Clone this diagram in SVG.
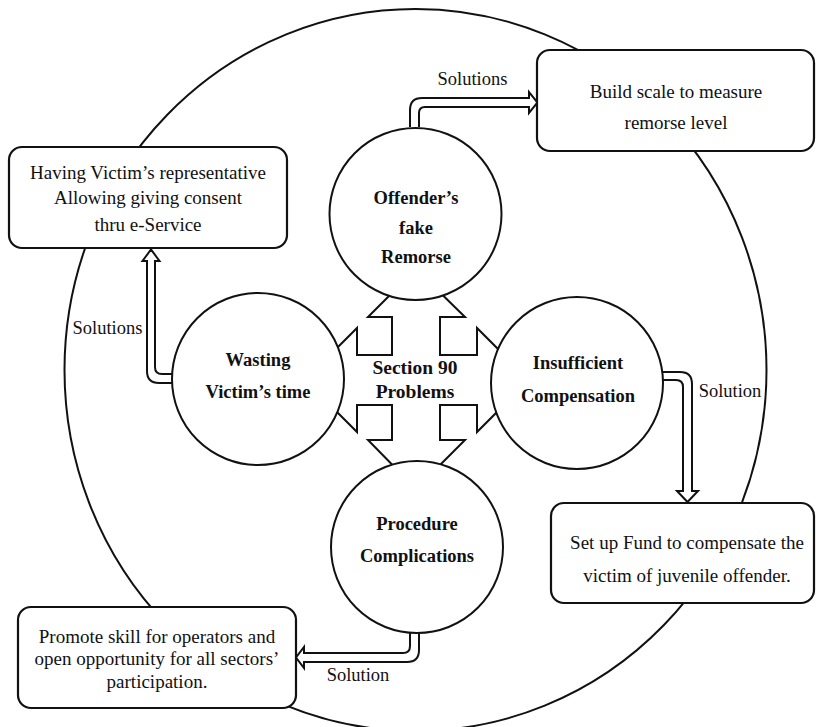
<svg xmlns="http://www.w3.org/2000/svg" width="816" height="727" viewBox="0 0 816 727">
<style>
.ln{fill:none;stroke:#111;stroke-width:2}
.nd{fill:#fff;stroke:#111;stroke-width:2}
.bx{fill:#fff;stroke:#111;stroke-width:2.2}
.ar{fill:#fff;stroke:#111;stroke-width:2;stroke-linejoin:miter}
text{font-family:'Liberation Serif','Times New Roman','DejaVu Serif',serif;fill:#111;text-anchor:middle}
.t{font-size:19px}
.b{font-size:18.5px;font-weight:bold}
.c{font-size:19.5px;font-weight:bold}
.lb{font-size:18.5px}
</style>
<rect width="816" height="727" fill="#fff"/>
<g id="outer-ring">
<ellipse class="ln" cx="415.5" cy="370" rx="351" ry="361"/>
</g>
<g id="center">
<path class="ar" d="M416,269 L465,317 L440,317 L440,355 L477,355 L477,328 L529,380 L477,432 L477,405 L440,405 L440,440 L465,440 L416,489 L368,440 L392,440 L392,405 L357,405 L357,432 L305,380 L357,328 L357,355 L392,355 L392,317 L368,317 Z"/>
<text class="c" x="415" y="374">Section 90</text>
<text class="c" x="415" y="398">Problems</text>
</g>
<g id="connectors">
<path class="ar" d="M410,127 V110 Q410,98 422,98 H529 V92 L537.5,102.5 L529,113 V107 H425 Q419,107 419,113 V127"/>
<text class="lb" x="472.5" y="85">Solutions</text>
<path class="ar" d="M173,374 H162 Q155,374 155,367 V261 H159.5 L151,249.5 L142.5,261 H147 V371 Q147,383 159,383 H173"/>
<text class="lb" x="107.5" y="334">Solutions</text>
<path class="ar" d="M662,372 H680 Q692,372 692,384 V491 H698 L687.5,502 L677,491 H683 V387 Q683,380 676,380 H662"/>
<text class="lb" x="730" y="397">Solution</text>
<path class="ar" d="M410,632 V646 Q410,653 403,653 H304 V647 L296,657.5 L304,668 V662 H407 Q419,662 419,650 V632"/>
<text class="lb" x="358" y="681">Solution</text>
</g>
<g id="offenders-fake-remorse">
<circle class="nd" cx="415.5" cy="214" r="86"/>
<text class="b" x="416" y="204">Offender’s</text>
<text class="b" x="416" y="234">fake</text>
<text class="b" x="416" y="263">Remorse</text>
</g>
<g id="wasting-victims-time">
<circle class="nd" cx="258" cy="379" r="86"/>
<text class="b" x="258" y="366">Wasting</text>
<text class="b" x="258" y="398">Victim’s time</text>
</g>
<g id="insufficient-compensation">
<circle class="nd" cx="577" cy="383" r="86"/>
<text class="b" x="578" y="369">Insufficient</text>
<text class="b" x="578" y="402">Compensation</text>
</g>
<g id="procedure-complications">
<circle class="nd" cx="417" cy="547" r="86"/>
<text class="b" x="417" y="530">Procedure</text>
<text class="b" x="417" y="562">Complications</text>
</g>
<g id="box-remorse-scale">
<rect class="bx" x="537" y="50" width="277" height="101" rx="13"/>
<text class="t" x="676" y="98">Build scale to measure</text>
<text class="t" x="676" y="129">remorse level</text>
</g>
<g id="box-victim-representative">
<rect class="bx" x="9" y="147" width="278" height="101" rx="13"/>
<text class="t" x="148" y="179">Having Victim’s representative</text>
<text class="t" x="148" y="204">Allowing giving consent</text>
<text class="t" x="148" y="231">thru e-Service</text>
</g>
<g id="box-fund">
<rect class="bx" x="551" y="503" width="263" height="100" rx="13"/>
<text class="t" x="687" y="549">Set up Fund to compensate the</text>
<text class="t" x="687" y="582">victim of juvenile offender.</text>
</g>
<g id="box-promote-skill">
<rect class="bx" x="18" y="607" width="278" height="101" rx="13"/>
<text class="t" x="157" y="643">Promote skill for operators and</text>
<text class="t" x="157" y="665">open opportunity for all sectors’</text>
<text class="t" x="157" y="688">participation.</text>
</g>
</svg>
